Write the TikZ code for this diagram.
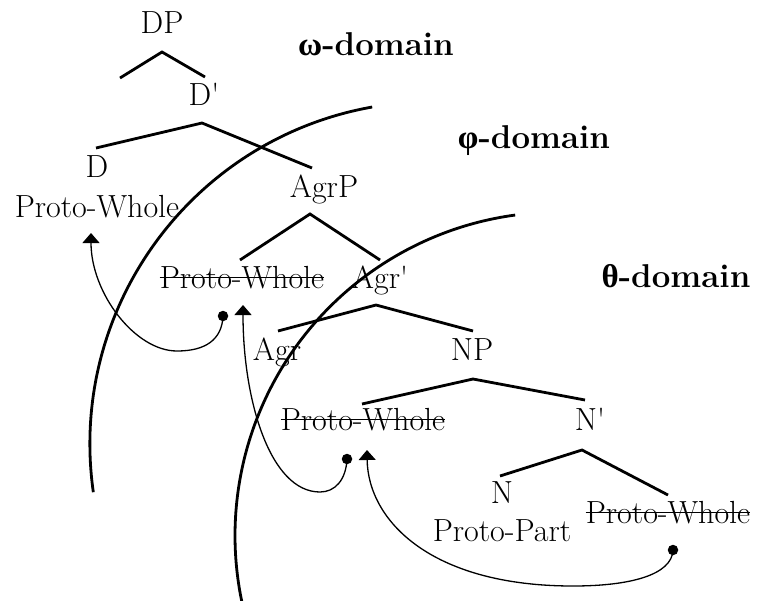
\documentclass[tikz,border=0pt]{standalone}
\usepackage{fontspec}
\newfontfamily\grk{Liberation Serif}
\usetikzlibrary{arrows.meta}
\begin{document}
\begin{tikzpicture}[x=1pt,y=1pt,
  lab/.style={inner sep=0pt, anchor=base, font=\fontsize{32}{38}\selectfont},
  dom/.style={inner sep=0pt, anchor=base, font=\fontsize{33}{40}\selectfont\bfseries},
  branch/.style={line width=2.8pt, line join=miter},
  bound/.style={line width=2.8pt},
  strike/.style={line width=1.3pt},
  mv/.style={line width=1.3pt, -{Triangle[width=17pt,length=10pt]}},
  dot/.style={circle, fill=black, inner sep=0pt, minimum size=10.5pt},
]
\useasboundingbox (0,0) rectangle (768,-600);

% tree labels
\node[lab] (DP)   at (162,-33)  {DP};
\node[lab] (Dbar) at (204,-105) {D\textquotesingle};
\node[lab] (D)    at (97,-177)  {D};
\node[lab] (PW1)  at (97,-217)  {Proto-Whole};
\node[lab] (AgrP) at (324,-197) {AgrP};
\node[lab] (PW2)  at (242,-288) {Proto-Whole};
\node[lab] (Agrb) at (380,-288) {Agr\textquotesingle};
\node[lab] (Agr)  at (277,-360) {Agr};
\node[lab] (NP)   at (472,-360) {NP};
\node[lab] (PW3)  at (363,-430) {Proto-Whole};
\node[lab] (Nbar) at (590,-430) {N\textquotesingle};
\node[lab] (N)    at (502,-503) {N};
\node[lab] (PP)   at (502,-541) {Proto-Part};
\node[lab] (PW4)  at (668,-523) {Proto-Whole};

% domain labels
\node[dom] (om) at (376,-55)  {{\grk\bfseries ω}-domain};
\node[dom] (ph) at (534,-148) {{\grk\bfseries φ}-domain};
\node[dom] (th) at (676,-287) {{\grk\bfseries θ}-domain};

% strike-throughs
\foreach \n in {PW2,PW3,PW4}
  \draw[strike] ([yshift=10.5pt]\n.base west) -- ([yshift=10.5pt]\n.base east);

% branch points
\coordinate (a1) at (162,-52);  \coordinate (l1) at (120,-78);  \coordinate (r1) at (205,-77);
\coordinate (a2) at (202,-123); \coordinate (l2) at (96,-148);  \coordinate (r2) at (312,-168);
\coordinate (a3) at (310,-214); \coordinate (l3) at (240,-260); \coordinate (r3) at (380,-260);
\coordinate (a4) at (376,-305); \coordinate (l4) at (278,-331); \coordinate (r4) at (473,-331);
\coordinate (a5) at (473,-379); \coordinate (l5) at (362,-404); \coordinate (r5) at (585,-400);
\coordinate (a6) at (582,-450); \coordinate (l6) at (500,-476); \coordinate (r6) at (668,-495);
\foreach \i in {1,...,6}
  \draw[branch] (l\i) -- (a\i) -- (r\i);

% domain boundaries
\draw[bound] (432.2,-444) ++(100.1:342.3) arc[start angle=100.1, end angle=188.1, radius=342.3];
\draw[bound] (558.5,-535.6) ++(97.7:323.5) arc[start angle=97.7, end angle=193, radius=323.5];

% movement arrows
\node[dot] (dA) at (223,-316) {};
\node[dot] (dB) at (347,-459) {};
\node[dot] (dC) at (673,-550) {};
\coordinate (tA) at (91,-233);
\coordinate (tB) at (243,-305);
\coordinate (tC) at (367,-450);

\draw[mv] (dA.center) .. controls (222,-340) and (205,-351) .. (177,-351)
  .. controls (135,-351) and (91,-293) .. (tA);
\draw[mv] (dB.center) .. controls (346,-480) and (335,-492) .. (320,-492)
  .. controls (270,-492) and (243,-400) .. (tB);
\draw[mv] (dC.center) .. controls (672,-575) and (630,-586) .. (573,-586)
  .. controls (430,-586) and (368,-520) .. (tC);
\end{tikzpicture}
\end{document}
